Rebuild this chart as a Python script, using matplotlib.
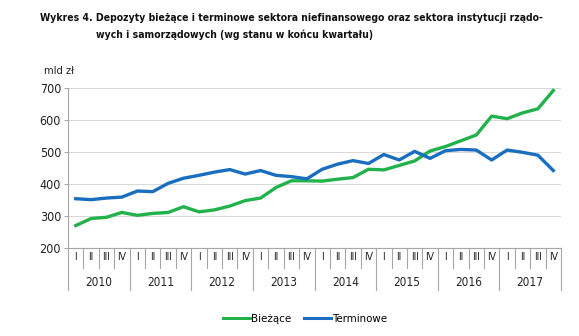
import matplotlib
matplotlib.use("Agg")
import matplotlib.pyplot as plt
from matplotlib.lines import Line2D

plt.rcParams["font.family"] = ["DejaVu Sans"]
plt.rcParams["font.stretch"] = "condensed"

years = ["2010", "2011", "2012", "2013", "2014", "2015", "2016", "2017"]
quarters = ["I", "II", "III", "IV"]

# deposits at end of quarter, bn PLN
biezace = [271, 293, 297, 312, 303, 309, 312, 330,
           314, 320, 332, 349, 357, 390, 411, 411,
           410, 416, 421, 447, 445, 459, 473, 504,
           518, 536, 554, 613, 605, 623, 636, 693]
terminowe = [355, 352, 357, 360, 379, 377, 403, 419,
             428, 438, 446, 432, 443, 428, 424, 417,
             447, 463, 474, 465, 493, 476, 503, 481,
             505, 509, 507, 476, 507, 500, 491, 443]

GREEN = "#22b24c"
BLUE = "#1a6ec0"
AXIS = "#a6a6a6"
GRID = "#d9d9d9"

fig = plt.figure(figsize=(5.79, 3.36), dpi=100)
ax = fig.add_axes([68 / 579, 1 - 248.3 / 336, (561 - 68) / 579, 160 / 336])

x = list(range(len(biezace)))
ax.plot(x, biezace, color=GREEN, lw=2.4, solid_joinstyle="round")
ax.plot(x, terminowe, color=BLUE, lw=2.4, solid_joinstyle="round")

ax.set_xlim(-0.5, len(x) - 0.5)
ax.set_ylim(200, 700)
ax.set_yticks(range(200, 701, 100))
ax.yaxis.grid(True, color=GRID, lw=0.8)
ax.set_axisbelow(True)
for s in ("top", "right"):
    ax.spines[s].set_visible(False)
for s in ("left", "bottom"):
    ax.spines[s].set_color(AXIS)
    ax.spines[s].set_linewidth(0.8)
ax.tick_params(axis="y", length=3, color=AXIS, labelsize=9, pad=2,
               labelcolor="#222222")
ax.set_xticks([])

# two-level category axis: quarters and years
trans = ax.get_xaxis_transform()
px = 1 / 160  # axes-fraction per pixel in y
for k in range(len(x) + 1):
    depth = 42 if k % 4 == 0 else 20
    ax.plot([k - 0.5, k - 0.5], [0, -depth * px], transform=trans,
            color=AXIS, lw=0.8, clip_on=False)
for i in x:
    ax.text(i, -8.5 * px, quarters[i % 4], transform=trans, ha="center",
            va="center", fontsize=7.5, color="#222222")
for j, yr in enumerate(years):
    ax.text(4 * j + 1.5, -34 * px, yr, transform=trans, ha="center",
            va="center", fontsize=8.5, color="#222222")

fig.text(44 / 579, 1 - 71 / 336, "mld zł", fontsize=8, va="center",
         color="#222222")

fig.text(40 / 579, 1 - 18 / 336,
         "Wykres 4. Depozyty bieżące i terminowe sektora niefinansowego oraz "
         "sektora instytucji rządo-",
         fontsize=7.45, fontweight="bold", va="center", color="#111111")
fig.text(96 / 579, 1 - 35 / 336,
         "wych i samorządowych (wg stanu w końcu kwartału)",
         fontsize=7.45, fontweight="bold", va="center", color="#111111")

handles = [Line2D([], [], color=GREEN, lw=2.2),
           Line2D([], [], color=BLUE, lw=2.2)]
fig.legend(handles, ["Bieżące", "Terminowe"], loc="center",
           bbox_to_anchor=(305 / 579, 1 - 319 / 336), ncol=2,
           frameon=False, fontsize=8.2, handlelength=2.4, handletextpad=0.1,
           columnspacing=1.1)

fig.savefig("out.png", dpi=100, facecolor="white")
